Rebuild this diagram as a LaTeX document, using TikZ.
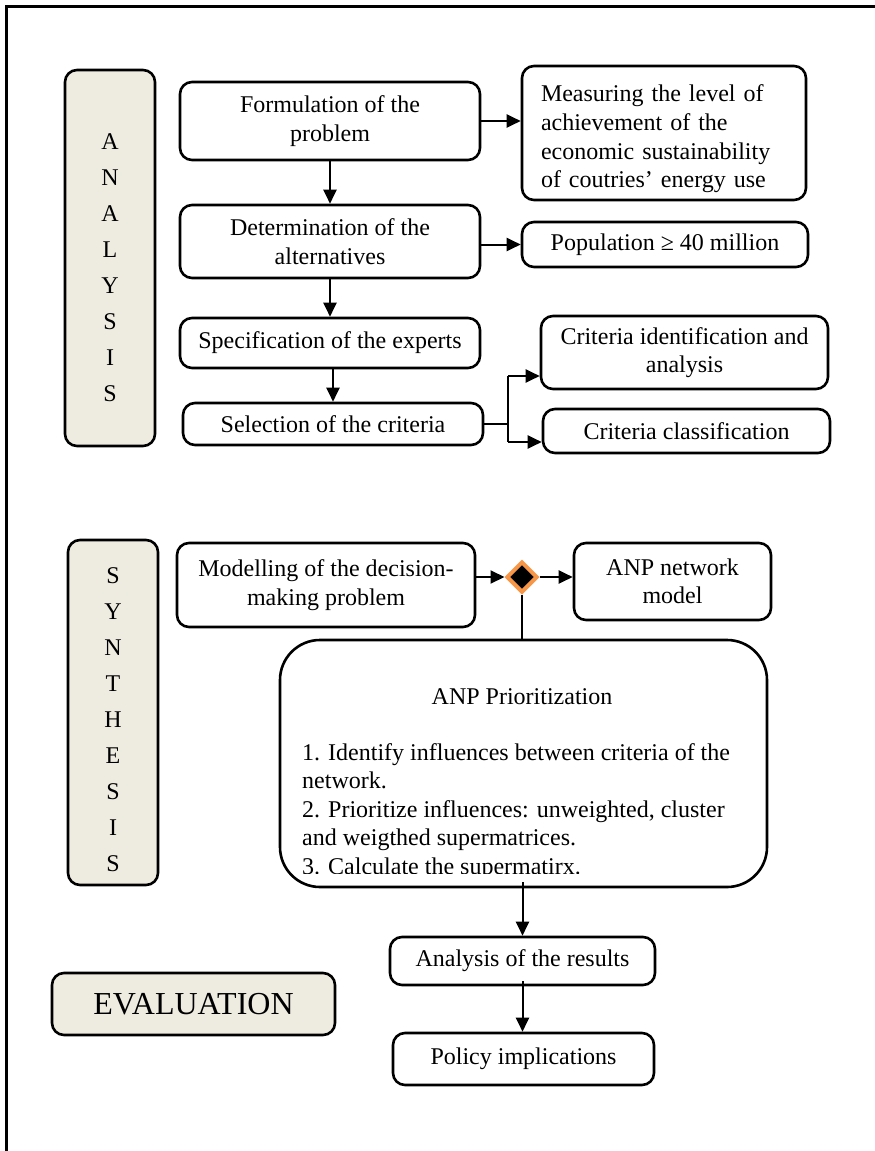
\documentclass[tikz,border=0pt]{standalone}
\usepackage{fontspec}
\setmainfont{Liberation Serif}
\usetikzlibrary{arrows.meta,shapes.geometric}
\definecolor{sidefill}{HTML}{EEECE1}
\definecolor{orng}{HTML}{F79646}
\newcommand{\txt}{\fontsize{24}{28.5}\selectfont}
\tikzset{
  box/.style={draw, line width=2.6pt, rounded corners=12pt, fill=white, align=center, inner sep=2pt, font=\txt},
  side/.style={box, fill=sidefill},
  arr/.style={line width=2pt, -{Triangle[length=14pt,width=13pt]}},
  ln/.style={line width=2pt},
}
\begin{document}
\begin{tikzpicture}[x=1pt,y=-1pt]
\useasboundingbox (0,0) rectangle (875,1151);
% outer frame
\draw[line width=3pt] (6,1151) -- (6,6) -- (875,6);

% ---------------- ANALYSIS ----------------
\node[side, minimum width=90pt, minimum height=376pt] (anl) at (110,258) {};
\node[align=center, inner sep=0, font=\fontsize{24}{36}\selectfont] (anlt) at (110,268) {A\\N\\A\\L\\Y\\S\\I\\S};

\node[box, minimum width=300pt, minimum height=78pt] (form) at (330,121) {Formulation of the\\problem};
\node[box, minimum width=284pt, minimum height=134pt] (meas) at (664,133) {};
\node[align=left, text width=250pt, inner sep=0, font=\fontsize{24}{28.7}\selectfont] (meast) at (666,139)
  {Measuring the level of\\achievement of the\\economic sustainability\\of coutries’ energy use};
\node[box, minimum width=300pt, minimum height=73pt] (det) at (330,241.5) {Determination of the\\alternatives};
\node[box, minimum width=286pt, minimum height=45pt] (pop) at (665,244.5) {Population ≥ 40 million};
\node[box, minimum width=300pt, minimum height=50pt] (spec) at (330,343) {Specification of the experts};
\node[box, minimum width=300pt, minimum height=42pt] (sel) at (333,424) {Selection of the criteria};
\node[box, minimum width=287pt, minimum height=73pt] (crid) at (684.5,352.5) {Criteria identification and\\analysis};
\node[box, minimum width=287pt, minimum height=44pt] (crcl) at (686.5,431) {Criteria classification};

\draw[arr] (form.east) -- (form.east -| meas.west);
\draw[arr] (form.south) -- (det.north);
\draw[arr] (det.east |- pop.west) -- (pop.west);
\draw[arr] (det.south) -- (spec.north);
\draw[arr] (sel.north |- spec.south) -- (sel.north);
\coordinate (bt) at (508,376);
\coordinate (bb) at (508,442);
\draw[ln] (sel.east) -- (sel.east -| bt);
\draw[ln] (bt) -- (bb);
\draw[arr] (bt) -- (bt -| crid.west);
\draw[arr] (bb) -- (bb -| crcl.west);

% ---------------- SYNTHESIS ----------------
\node[side, minimum width=90pt, minimum height=345pt] (syn) at (113,712.5) {};
\node[align=center, inner sep=0, font=\fontsize{24}{36}\selectfont] (synt) at (113,720) {S\\Y\\N\\T\\H\\E\\S\\I\\S};

\node[box, minimum width=298pt, minimum height=84pt] (model) at (326,585) {Modelling of the decision-\\making problem};
\node[diamond, draw=orng, fill=black, line width=4pt, minimum width=31pt, minimum height=31pt, inner sep=0] (dia) at (522,577) {};
\node[box, minimum width=197pt, minimum height=77pt] (anpn) at (672.5,581.5) {ANP network\\model};
\node[box, rounded corners=40pt, minimum width=487pt, minimum height=247pt] (anpp) at (523.5,763.5) {};
\node[font=\txt, inner sep=0] (anpt) at (522,697) {ANP Prioritization};
\begin{scope}
\clip (282,642) rectangle (765,873);
\node[anchor=north west, inner sep=0, align=left, font=\txt] (anpl) at (302,743)
  {1. Identify influences between criteria of the\\network.\\2. Prioritize influences: unweighted, cluster\\and weigthed supermatrices.\\3. Calculate the supermatirx.};
\end{scope}

\draw[arr] (model.east |- dia.west) -- (dia.west);
\draw[arr] (dia.east) -- (dia.east -| anpn.west);
\draw[ln] (dia.south) -- (dia.south |- anpp.north);

% ---------------- EVALUATION ----------------
\node[box, minimum width=265pt, minimum height=48pt] (res) at (522.5,961) {Analysis of the results};
\node[box, minimum width=261pt, minimum height=52pt] (pol) at (523.5,1059) {Policy implications};
\node[side, minimum width=283pt, minimum height=62pt, font=\fontsize{32}{36}\selectfont] (eval) at (193.5,1004) {EVALUATION};

\draw[arr] ([yshift=6pt]anpp.south -| res.north) -- (res.north);
\draw[arr] ([yshift=5pt]res.south) -- (res.south |- pol.north);
\end{tikzpicture}
\end{document}
